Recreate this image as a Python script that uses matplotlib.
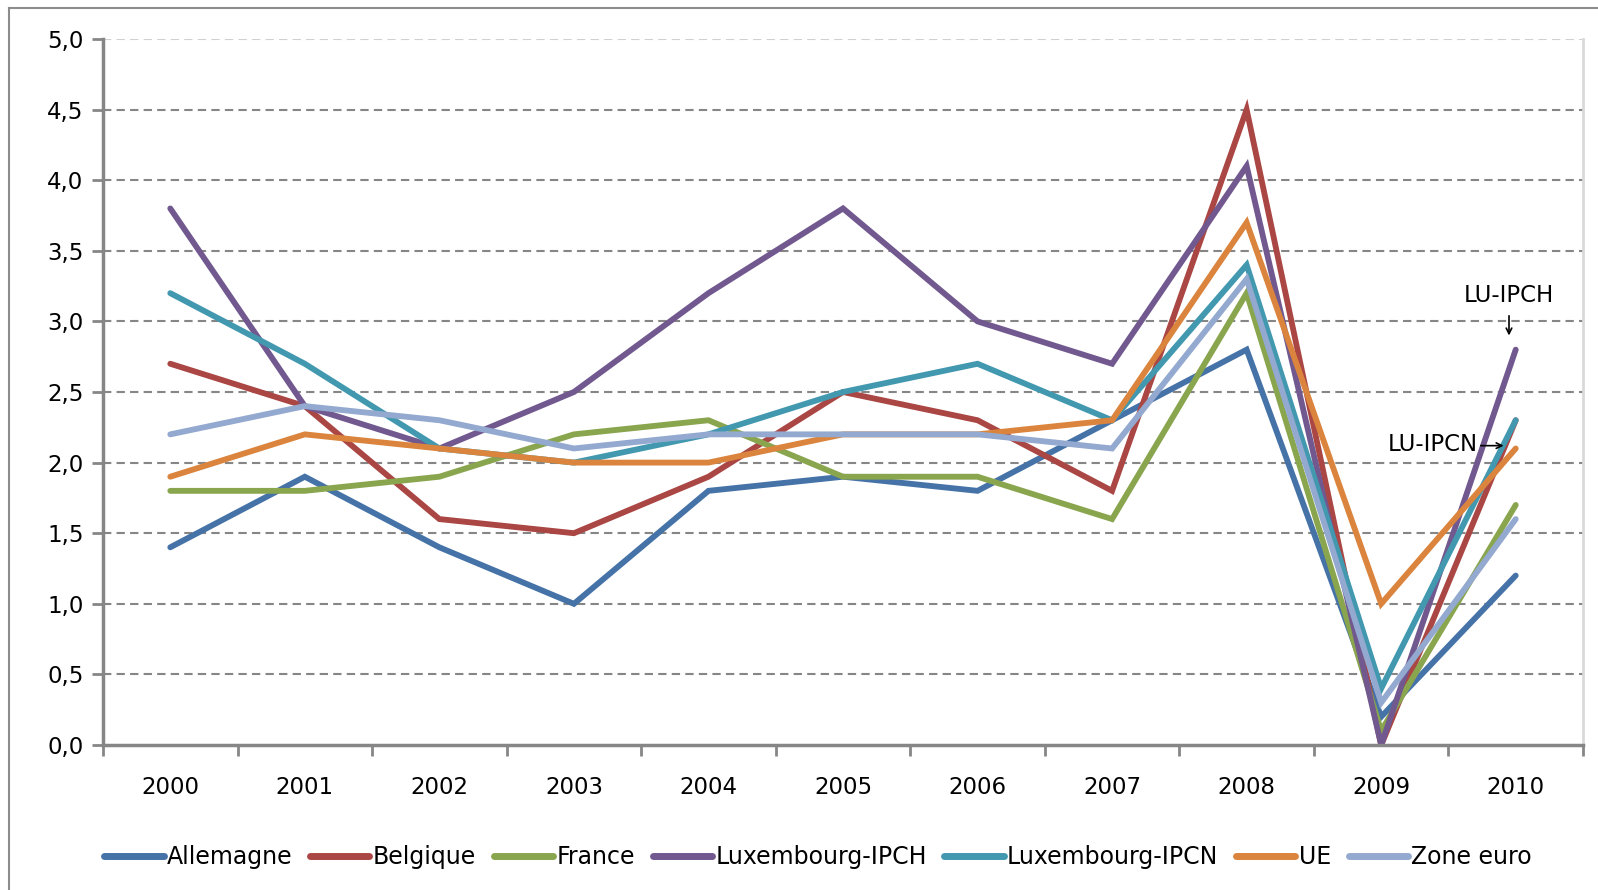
import matplotlib.pyplot as plt
from matplotlib.lines import Line2D

# données (inflation annuelle, %)
years = ['2000', '2001', '2002', '2003', '2004', '2005', '2006', '2007', '2008', '2009', '2010']
allemagne = [1.4, 1.9, 1.4, 1.0, 1.8, 1.9, 1.8, 2.3, 2.8, 0.2, 1.2]
belgique = [2.7, 2.4, 1.6, 1.5, 1.9, 2.5, 2.3, 1.8, 4.5, 0.0, 2.3]
france = [1.8, 1.8, 1.9, 2.2, 2.3, 1.9, 1.9, 1.6, 3.2, 0.1, 1.7]
lux_ipch = [3.8, 2.4, 2.1, 2.5, 3.2, 3.8, 3.0, 2.7, 4.1, 0.0, 2.8]
lux_ipcn = [3.2, 2.7, 2.1, 2.0, 2.2, 2.5, 2.7, 2.3, 3.4, 0.4, 2.3]
ue = [1.9, 2.2, 2.1, 2.0, 2.0, 2.2, 2.2, 2.3, 3.7, 1.0, 2.1]
zone_euro = [2.2, 2.4, 2.3, 2.1, 2.2, 2.2, 2.2, 2.1, 3.3, 0.3, 1.6]

series = [
    ("Allemagne", allemagne, "#4572A7"),
    ("Belgique", belgique, "#AA4643"),
    ("France", france, "#89A54E"),
    ("Luxembourg-IPCH", lux_ipch, "#71588F"),
    ("Luxembourg-IPCN", lux_ipcn, "#4198AF"),
    ("UE", ue, "#DB843D"),
    ("Zone euro", zone_euro, "#93A9CF"),
]

fig = plt.figure(figsize=(15.98, 8.90), dpi=100)
ax = fig.add_axes([103 / 1598, 1 - 745 / 890, (1583 - 103) / 1598, (745 - 39) / 890])

# cadre extérieur (haut et gauche visibles)
fig.add_artist(Line2D([9 / 1598, 1.0], [1 - 8 / 890, 1 - 8 / 890], color="#8c8c8c", lw=1.5))
fig.add_artist(Line2D([9 / 1598, 9 / 1598], [0, 1 - 8 / 890], color="#8c8c8c", lw=1.5))

x = list(range(len(years)))
for name, vals, col in series:
    ax.plot(x, vals, color=col, lw=4.2, label=name, solid_capstyle="round", solid_joinstyle="miter")

ax.set_xlim(-0.5, len(years) - 0.5)
ax.set_ylim(0, 5)
ax.set_yticks([i * 0.5 for i in range(11)])
ax.set_yticklabels([f"{i * 0.5:.1f}".replace(".", ",") for i in range(11)], fontsize=16.5)
ax.set_xticks(x)
ax.set_xticklabels(years, fontsize=16.5)
ax.set_xticks([i - 0.5 for i in range(len(years) + 1)], minor=True)
ax.tick_params(axis="x", which="major", length=0, pad=22)
ax.tick_params(axis="x", which="minor", length=8, width=2, color="#868686", direction="out")
ax.tick_params(axis="y", length=8, width=2, color="#868686", pad=6)

for v in [i * 0.5 for i in range(1, 10)]:
    ax.axhline(v, color="#868686", lw=1.5, ls=(0, (4, 2.5)), zorder=0)
ax.axhline(5.0, color="#d0d0d0", lw=1.5, ls=(0, (4, 2.5)), zorder=0)

for s in ["left", "bottom"]:
    ax.spines[s].set_color("#868686")
    ax.spines[s].set_linewidth(2.5)
ax.spines["top"].set_visible(False)
ax.spines["right"].set_color("#d9d9d9")
ax.spines["right"].set_linewidth(2)

# annotations
ax.annotate("", xy=(9.95, 2.90), xytext=(9.95, 3.04),
            arrowprops=dict(arrowstyle="->", lw=1.2, color="black", shrinkA=0, shrinkB=0))
ax.text(9.95, 3.18, "LU-IPCH", fontsize=16.5, ha="center", va="center")
ax.annotate("", xy=(9.91, 2.12), xytext=(9.74, 2.12),
            arrowprops=dict(arrowstyle="->", lw=1.2, color="black", shrinkA=0, shrinkB=0))
ax.text(9.72, 2.13, "LU-IPCN", fontsize=16.5, ha="right", va="center")

leg = fig.legend(loc="center", bbox_to_anchor=(0.512, 1 - 857 / 890), ncol=7, frameon=False,
                 fontsize=17, handlelength=2.5, handletextpad=0.15, columnspacing=0.75)
for h in leg.get_lines():
    h.set_linewidth(5)
    h.set_solid_capstyle("round")

fig.savefig("out.png", dpi=100)
